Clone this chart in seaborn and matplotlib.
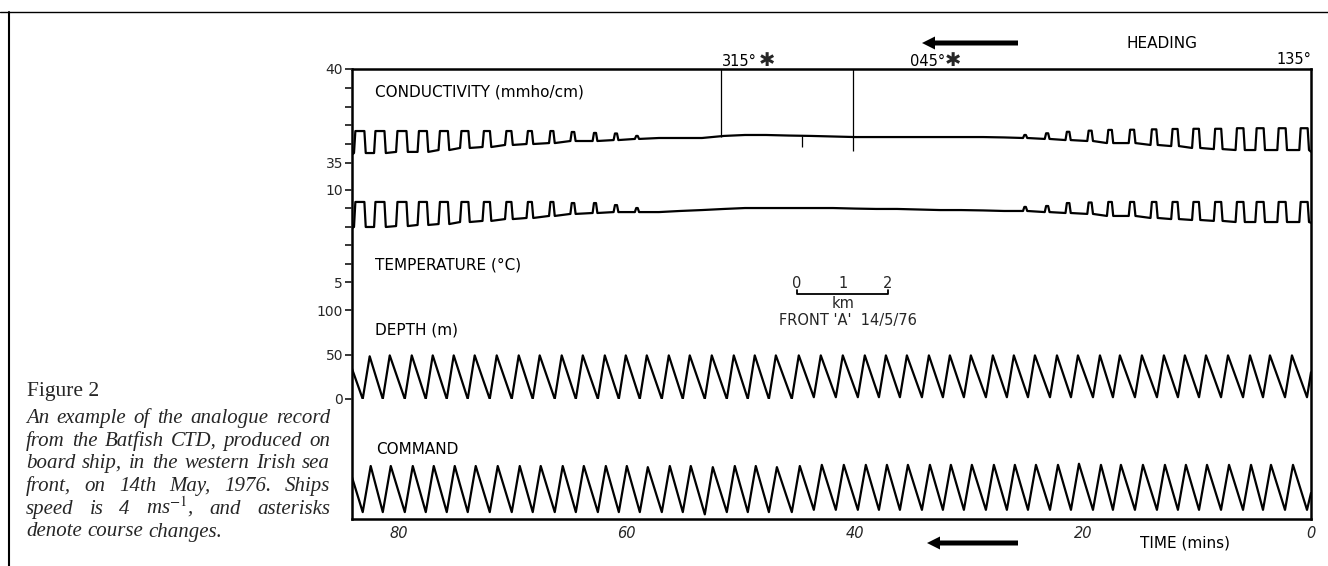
import matplotlib
matplotlib.use("Agg")
import matplotlib.pyplot as plt
import seaborn as sns
import pandas as pd
from matplotlib.patches import FancyArrow

# ---------------------------------------------------------------- data
# time (minutes before end of record) of each Batfish surfacing (depth minimum)
cycle_time = [83.16, 81.40, 79.47, 77.63, 75.79, 73.95, 72.02, 70.09, 68.25, 66.32,
              64.47, 62.54, 60.70, 58.86, 56.93, 55.09, 53.16, 51.23, 49.39, 47.54,
              45.53, 43.60, 41.67, 39.74, 37.89, 36.05, 34.12, 32.28, 30.44, 28.51,
              26.67, 24.82, 22.89, 21.05, 19.12, 17.37, 15.44, 13.51, 11.67, 9.82,
              7.89, 5.96, 4.21, 2.28, 0.35]

# conductivity (mmho/cm): level between pulses and pulse top for each cycle
cond_base = [35.53, 35.53, 35.59, 35.59, 35.69, 35.80, 35.85, 35.96, 36.01, 36.06,
             36.17, 36.17, 36.22, 36.28,
             36.33, 36.33, 36.33, 36.44, 36.49, 36.49, 36.46, 36.44, 36.41, 36.38,
             36.38, 36.38, 36.38, 36.38, 36.38, 36.38, 36.36,
             36.33, 36.28, 36.22, 36.17, 36.06, 36.06, 35.96, 35.90, 35.80, 35.74,
             35.69, 35.69, 35.69, 35.69]
cond_peak = [36.70, 36.70, 36.70, 36.70, 36.70, 36.70, 36.70, 36.70, 36.70, 36.70,
             36.65, 36.60, 36.57, 36.44,
             36.33, 36.33, 36.33, 36.44, 36.49, 36.49, 36.46, 36.44, 36.41, 36.38,
             36.38, 36.38, 36.38, 36.38, 36.38, 36.38, 36.36,
             36.49, 36.58, 36.66, 36.72, 36.76, 36.77, 36.79, 36.81, 36.82, 36.82,
             36.85, 36.85, 36.85, 36.85]

# temperature (deg C): level between pulses and pulse top for each cycle
temp_base = [7.99, 7.99, 8.04, 8.10, 8.15, 8.26, 8.32, 8.42, 8.48, 8.59,
             8.70, 8.75, 8.80, 8.80,
             8.80, 8.86, 8.91, 8.97, 9.02, 9.02, 9.02, 9.02, 9.02, 8.99,
             8.97, 8.97, 8.94, 8.91, 8.91, 8.89, 8.86,
             8.86, 8.80, 8.75, 8.70, 8.59, 8.59, 8.48, 8.42, 8.37, 8.32,
             8.26, 8.26, 8.26, 8.26]
temp_peak = [9.35, 9.35, 9.35, 9.35, 9.35, 9.35, 9.35, 9.35, 9.35, 9.35,
             9.29, 9.29, 9.18, 9.02,
             8.80, 8.86, 8.91, 8.97, 9.02, 9.02, 9.02, 9.02, 9.02, 8.99,
             8.97, 8.97, 8.94, 8.91, 8.91, 8.89, 8.86,
             9.08, 9.13, 9.29, 9.32, 9.35, 9.35, 9.35, 9.35, 9.35, 9.35,
             9.35, 9.35, 9.35, 9.35]

# duration of the surface pulse (minutes) in each cycle
pulse_width = [0.79, 0.79, 0.79, 0.70, 0.70, 0.61, 0.53, 0.44, 0.35, 0.26,
               0.22, 0.18, 0.18, 0.13,
               0, 0, 0, 0, 0, 0, 0, 0, 0, 0, 0, 0, 0, 0, 0, 0, 0,
               0.13, 0.18, 0.22, 0.26, 0.31, 0.35, 0.39, 0.44, 0.48, 0.53,
               0.57, 0.61, 0.61, 0.61]

# depth (m): minimum and maximum of each undulation
depth_min = [0, 0, 0, 0, 0, 0, 0, 0, 0, 0, 0, 0, 0, 0, 0, 0, 0, 0, 0, 0, 0,
             2, 2, 2, 2, 2, 2, 2, 2, 2, 2, 2, 2, 2, 2, 2, 2, 2, 2, 2, 2, 2, 2, 2, 2]
depth_max = [48, 49, 49, 49, 49, 49, 49, 49, 49, 49, 49, 49, 49, 49, 49, 49, 49,
             49, 49, 49, 49, 49, 49, 49, 49, 49, 49, 49, 49, 49, 49, 49, 49, 49,
             49, 49, 49, 49, 49, 49, 49, 49, 49, 49, 49]

# command signal (arbitrary units): minimum and maximum of each cycle
command_min = [-1.05, -1.05, -1.05, -1.05, -1.05, -1.05, -1.05, -1.05, -1.05, -1.05,
               -1.05, -1.05, -1.05, -1.05, -1.05, -1.05, -1.15, -1.05, -1.05, -1.05,
               -1.05, -0.95, -0.95, -0.95, -0.95, -0.95, -0.95, -0.95, -0.95, -0.95,
               -0.95, -0.95, -0.95, -0.95, -0.95, -0.95, -0.95, -0.95, -0.95, -0.95,
               -0.95, -0.95, -0.95, -0.95, -0.95]
command_max = [1.0, 1.0, 1.0, 1.0, 1.0, 1.0, 1.0, 1.0, 1.0, 1.0,
               1.0, 1.0, 1.0, 0.95, 1.0, 1.0, 0.95, 1.0, 1.0, 0.95,
               1.0, 1.05, 1.05, 1.05, 1.05, 1.05, 1.05, 1.05, 1.05, 1.05,
               1.05, 1.05, 1.05, 1.1, 1.05, 1.05, 1.05, 1.05, 1.05, 1.05,
               1.05, 1.05, 1.05, 1.05, 1.05]

record_start, record_end = 84.1, 0.0
cond_ends = (35.45, 35.60)
temp_ends = (7.93, 8.22)
depth_ends = (34, 30)
command_ends = (0.5, -0.2)

course_change_time = [51.75, 40.2]
course_change_foot = [36.38, 35.64]
course_labels = ["315°", "045°"]
final_heading = "135°"
glitch_time = [44.65]
glitch_low, glitch_high = [35.85], [36.45]

time_ticks = [80, 60, 40, 20, 0]
cond_ticks, cond_minor = [35, 40], [36, 37, 38, 39]
temp_ticks, temp_minor = [5, 10], [6, 7, 8, 9]
depth_ticks = [0, 50, 100]
scale_labels = ["0", "1", "2"]

caption_title = "Figure 2"
caption_lines = ["An example of the analogue record",
                 "from the Batfish CTD, produced on",
                 "board ship, in the western Irish sea",
                 "front, on 14th May, 1976. Ships",
                 "speed is 4 ms$^{-1}$, and asterisks",
                 "denote course changes."]

# ---------------------------------------------------------------- helpers
PULSE_OFFSET = 0.25
RISE = 0.12
COMMAND_LAG = 0.70
DEPTH_LAG = 0.61


def pulse_trace(base, peak, width, ends):
    ts, vs = [record_start], [ends[0]]
    for tk, b, p, w in zip(cycle_time, base, peak, width):
        c = tk + PULSE_OFFSET
        if p > b:
            h = w / 2
            ts += [c + h + RISE, c + h, c - h, c - h - RISE]
            vs += [b, p, p, b]
        else:
            ts.append(c)
            vs.append(b)
    ts.append(record_end)
    vs.append(ends[1])
    return ts, vs


def saw_trace(lo, hi, lag, ends):
    ts, vs = [record_start], [ends[0]]
    for tk, a, b in zip(cycle_time, lo, hi):
        for t, v in ((tk, a), (tk - lag, b)):
            if t > record_end:
                ts.append(t)
                vs.append(v)
    ts.append(record_end)
    vs.append(ends[1])
    return ts, vs


def draw(ax, ts, vs, lw=1.6):
    df = pd.DataFrame({"t": ts, "v": vs})
    sns.lineplot(data=df, x="t", y="v", ax=ax, color="black", linewidth=lw,
                 sort=False, estimator=None)
    ax.set_xlabel("")
    ax.set_ylabel("")


# ---------------------------------------------------------------- figure
sns.set_style("white")
plt.rcParams["font.family"] = ["DejaVu Sans"]
plt.rcParams["mathtext.fontset"] = "stix"

W, H = 1328, 566
fig = plt.figure(figsize=(W / 100, H / 100), dpi=100)
fig.patch.set_facecolor("white")
L, R = 352, 1311


def px_rect(top, bottom):
    return [L / W, 1 - bottom / H, (R - L) / W, (bottom - top) / H]


main = fig.add_axes(px_rect(69, 519))
main.set_facecolor("white")
main.set_ylim(0, 1)
main.set_yticks([])
for s in main.spines.values():
    s.set_visible(True)
    s.set_linewidth(1.8)
    s.set_color("black")
main.set_xticks(time_ticks)
main.set_xticklabels([str(t) for t in time_ticks], fontsize=10.5, style="italic")
main.tick_params(axis="x", length=0, pad=5)


def channel(top, bottom, ylim, major=None, minor=None):
    ax = fig.add_axes(px_rect(top, bottom), sharex=main)
    ax.patch.set_alpha(0)
    for s in ax.spines.values():
        s.set_visible(False)
    ax.set_ylim(*ylim)
    ax.tick_params(axis="x", bottom=False, labelbottom=False)
    if major:
        ax.set_yticks(major)
        ax.set_yticklabels([str(m) for m in major], fontsize=10)
        ax.tick_params(axis="y", which="major", direction="out", length=5,
                       width=1.3, pad=1.5, left=True)
        if minor:
            ax.set_yticks(minor, minor=True)
            ax.tick_params(axis="y", which="minor", direction="out", length=5,
                           width=1.3, left=True)
    else:
        ax.set_yticks([])
    return ax


ax_c = channel(69, 163, (35, 40), cond_ticks, cond_minor)
ax_t = channel(190, 282, (5, 10), temp_ticks, temp_minor)
ax_d = channel(310, 399, (0, 100), depth_ticks)
ax_m = channel(420, 519, (-1.356, 3.044))

draw(ax_c, *pulse_trace(cond_base, cond_peak, pulse_width, cond_ends))
draw(ax_t, *pulse_trace(temp_base, temp_peak, pulse_width, temp_ends))
draw(ax_d, *saw_trace(depth_min, depth_max, DEPTH_LAG, depth_ends))
draw(ax_m, *saw_trace(command_min, command_max, COMMAND_LAG, command_ends))

ax_c.vlines(course_change_time, course_change_foot, 40, colors="black", lw=0.9)
ax_c.vlines(glitch_time, glitch_low, glitch_high, colors="black", lw=0.9)

main.set_xlim(record_start, record_end)

# ---------------------------------------------------------------- overlay (pixel coords)
ov = fig.add_axes([0, 0, 1, 1])
ov.set_xlim(0, W)
ov.set_ylim(H, 0)
ov.axis("off")
ov.patch.set_alpha(0)

# page frame lines
ov.plot([0, W], [12, 12], color="black", lw=1.0)
ov.plot([9, 9], [12, H], color="black", lw=1.5)

lab = dict(fontsize=11, color="black", va="center", ha="left")
ov.text(375, 92, "CONDUCTIVITY (mmho/cm)", **lab)
ov.text(375, 265, "TEMPERATURE (°C)", **lab)
ov.text(375, 330, "DEPTH (m)", **lab)
ov.text(376, 450, "COMMAND", **lab)
ov.text(1140, 543, "TIME (mins)", **lab)
ov.text(1127, 43, "HEADING", **lab)

hd = dict(fontsize=10.5, color="black", va="center")
ov.text(722, 62, course_labels[0], ha="left", **hd)
ov.text(767, 61, "✱", ha="center", fontsize=14, va="center")
ov.text(910, 62, course_labels[1], ha="left", **hd)
ov.text(953, 61, "✱", ha="center", fontsize=14, va="center")
ov.text(1311, 60, final_heading, ha="right", **hd)

# direction arrows
ov.add_patch(FancyArrow(1018, 43, -96, 0, width=5, head_width=13, head_length=13,
                        length_includes_head=True, color="black", lw=0))
ov.add_patch(FancyArrow(1018, 543, -91, 0, width=5, head_width=13, head_length=13,
                        length_includes_head=True, color="black", lw=0))

# distance scale
for xs, s in zip([797, 843, 888], scale_labels):
    ov.text(xs, 283, s, ha="center", va="center", fontsize=10.5)
ov.plot([797, 797, 888, 888], [290, 294, 294, 290], color="black", lw=1.3)
ov.text(843, 304, "km", ha="center", va="center", fontsize=10.5)
ov.text(848, 321, "FRONT 'A'  14/5/76", ha="center", va="center", fontsize=10.5)

# caption
serif = "Liberation Serif"
ov.text(27, 396, caption_title, fontsize=15.5, family=serif, va="baseline", ha="left")

renderer = fig.canvas.get_renderer()
x0, x1 = 26, 330
fs = 15
base_y, step = 423, 22.7
for i, line in enumerate(caption_lines):
    y = base_y + i * step
    words = line.split(" ")
    texts = [ov.text(0, y, w, fontsize=fs, family=serif, style="italic",
                     va="baseline", ha="left") for w in words]
    widths = [t.get_window_extent(renderer).width for t in texts]
    space = fs * 100 / 72 * 0.25
    if i < len(caption_lines) - 1 and len(words) > 1:
        gap = max((x1 - x0 - sum(widths)) / (len(words) - 1), space * 0.6)
    else:
        gap = space
    x = x0
    for t, w in zip(texts, widths):
        t.set_x(x)
        x += w + gap

fig.savefig("out.png", dpi=100, facecolor="white")
